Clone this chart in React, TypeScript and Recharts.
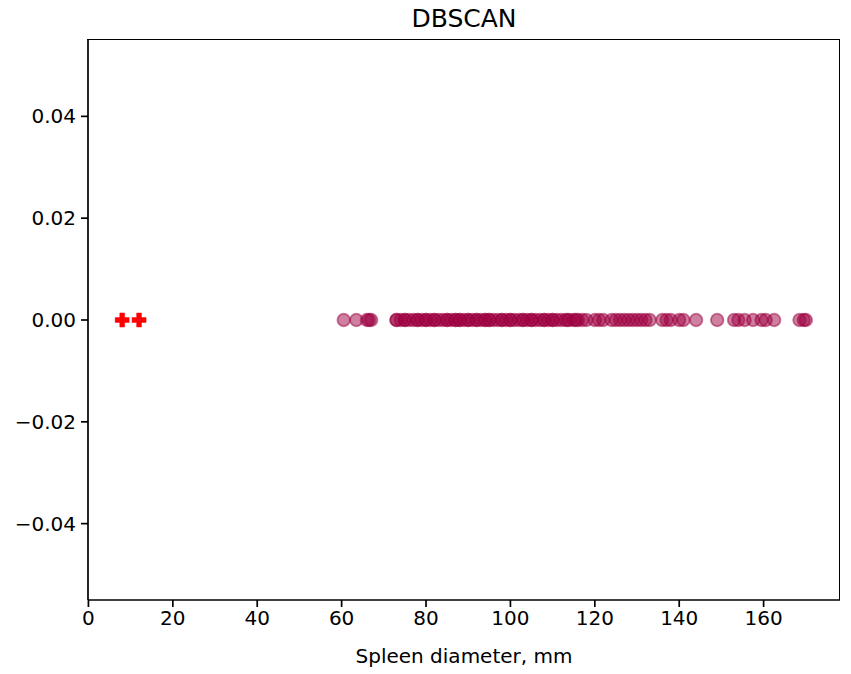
import React from "react";
import { ScatterChart, Scatter, XAxis, YAxis } from "recharts";

// spleen diameters (mm) by DBSCAN label
const clusterDiameters = [
  60.5, 63.5, 66, 66.5, 67, 73, 73, 74, 75, 75, 76, 77, 78, 78, 79, 80, 80, 81,
  82, 82, 83, 84, 85, 85, 86, 87, 87, 88, 88, 89, 90, 90, 91, 92, 92, 93, 94,
  94, 95, 95, 96, 97, 98, 98, 99, 100, 100, 101, 102, 103, 103, 104, 105, 105,
  106, 107, 108, 108, 109, 110, 110, 111, 112, 113, 113.5, 114, 115, 115.5,
  116, 117, 118, 120, 121, 122, 124, 125, 126, 127, 128, 129, 130, 131, 132,
  133, 136, 137, 138, 140, 141, 144, 149, 153, 154, 155.5, 157.5, 159.5, 160.5,
  162.5, 168.5, 169.5, 170,
];
const noiseDiameters = [8, 12];

const xTicks = [0, 20, 40, 60, 80, 100, 120, 140, 160];
const yTicks = [-0.04, -0.02, 0, 0.02, 0.04];

const clusterData = clusterDiameters.map((x) => ({ x, y: 0 }));
const noiseData = noiseDiameters.map((x) => ({ x, y: 0 }));

const FONT = "'DejaVu Sans', sans-serif";
const CLUSTER_COLOR = "#9e0142";

const fmtY = (v: number) =>
  v < 0 ? "\u2212" + Math.abs(v).toFixed(2) : v.toFixed(2);

const CircleDot = (props: any) => (
  <circle
    cx={props.cx}
    cy={props.cy}
    r={6.3}
    fill={CLUSTER_COLOR}
    fillOpacity={0.5}
    stroke={CLUSTER_COLOR}
    strokeOpacity={0.5}
    strokeWidth={1.8}
  />
);

const PlusDot = (props: any) => {
  const { cx, cy } = props;
  const a = 7;
  const t = 2.4;
  const d = `M${cx - t},${cy - a}H${cx + t}V${cy - t}H${cx + a}V${cy + t}H${cx + t}V${cy + a}H${cx - t}V${cy + t}H${cx - a}V${cy - t}H${cx - t}Z`;
  return <path d={d} fill="#ff0000" stroke="#ff0000" strokeWidth={0.5} />;
};

const tickStyle = { fill: "#000", fontSize: 20, fontFamily: FONT };
const axisLine = { stroke: "#000", strokeWidth: 1.7 };

export default function App() {
  return (
    <div
      style={{
        position: "absolute",
        left: 0,
        top: 0,
        width: 851,
        height: 674,
        background: "#fff",
      }}
    >
      <div
        style={{
          position: "absolute",
          left: 88,
          width: 752,
          top: 4,
          textAlign: "center",
          fontFamily: FONT,
          fontSize: 25,
          color: "#000",
        }}
      >
        DBSCAN
      </div>
      <ScatterChart
        width={851}
        height={674}
        margin={{ top: 40, right: 11, bottom: 0, left: 0 }}
      >
        <XAxis
          type="number"
          dataKey="x"
          domain={[-0.1, 178.1]}
          ticks={xTicks}
          allowDataOverflow
          height={74}
          tick={tickStyle}
          tickSize={7}
          tickMargin={4}
          axisLine={axisLine}
          tickLine={axisLine}
          label={{
            value: "Spleen diameter, mm",
            position: "insideBottom",
            offset: 11,
            style: { fill: "#000", fontSize: 20, fontFamily: FONT },
          }}
        />
        <YAxis
          type="number"
          dataKey="y"
          domain={[-0.055, 0.055]}
          ticks={yTicks}
          allowDataOverflow
          width={88}
          tick={tickStyle}
          tickFormatter={fmtY}
          tickSize={7}
          tickMargin={5}
          axisLine={axisLine}
          tickLine={axisLine}
        />
        <Scatter
          data={clusterData}
          shape={CircleDot}
          isAnimationActive={false}
        />
        <Scatter data={noiseData} shape={PlusDot} isAnimationActive={false} />
      </ScatterChart>
      {/* frame around the plot area (top and right spines) */}
      <div
        style={{
          position: "absolute",
          left: 87,
          top: 39,
          width: 752,
          height: 560,
          borderTop: "1.7px solid #000",
          borderRight: "1.7px solid #000",
          pointerEvents: "none",
        }}
      />
    </div>
  );
}
